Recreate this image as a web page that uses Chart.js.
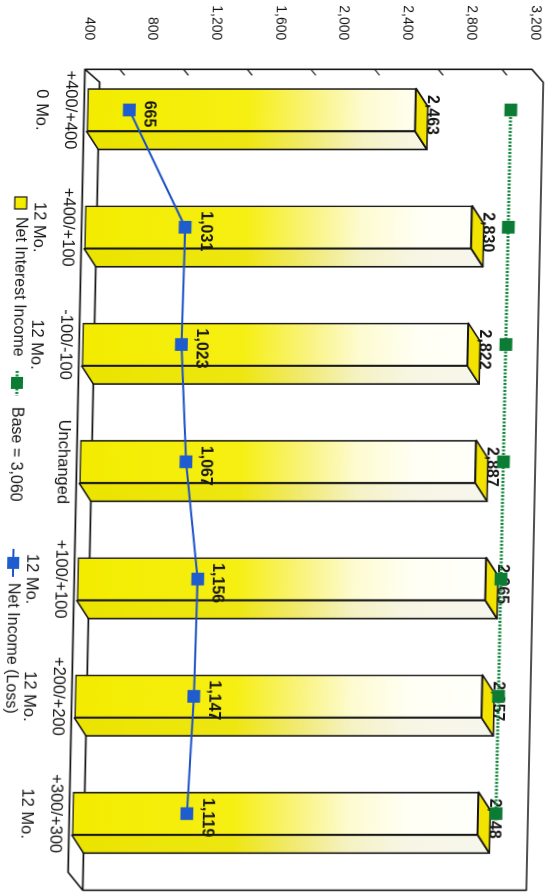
<!DOCTYPE html>
<html>
<head>
<meta charset="utf-8">
<script src="https://cdn.jsdelivr.net/npm/chart.js@4.4.1/dist/chart.umd.min.js"></script>
<style>
  html, body { margin: 0; padding: 0; background: #fff; width: 548px; height: 893px; overflow: hidden; }
  /* the landscape chart is turned a quarter turn clockwise to fill the portrait page */
  #wrap { position: absolute; left: 0; top: 0; width: 893px; height: 548px;
          transform-origin: 0 0; transform: translateX(548px) skewX(-1.2deg) rotate(90deg); }
  canvas { display: block; }
</style>
</head>
<body>
<div id="wrap"><canvas id="c" width="893" height="548"></canvas></div>
<script>
// Rate scenarios (category axis, two lines each)
const scenarios = [
  ['+400/+400', '0 Mo.'],
  ['+400/+100', '12 Mo.'],
  ['-100/-100', '12 Mo.'],
  ['Unchanged'],
  ['+100/+100', '12 Mo.'],
  ['+200/+200', '12 Mo.'],
  ['+300/+300', '12 Mo.']
];
// Series values
const netInterestIncome = [2463, 2830, 2822, 2887, 2965, 2957, 2948];
const baseLine = [3060, 3060, 3060, 3060, 3060, 3060, 3060];
const netIncome = [665, 1031, 1023, 1067, 1156, 1147, 1119];
// Value axis ticks
const axisMin = 400;
const axisMax = 3200;
const axisStep = 400;
const minorTicks = [600, 1000, 1400, 1800, 2200, 2600, 3000];

const FONT = '"Liberation Sans", Arial, sans-serif';
const INK = '#161616';
const YELLOW = '#f5ed00';
const GREEN = '#0f863b';
const BLUE = '#1d52c8';
const DX = 18, DY = -12;   // 3D depth offset

const fmt = v => Number(v).toLocaleString('en-US');

function barGradient(chart) {
  const y = chart.scales.y;
  if (!chart.chartArea || !y) return YELLOW;
  const g = chart.ctx.createLinearGradient(0, y.getPixelForValue(axisMin), 0, y.getPixelForValue(axisMax));
  g.addColorStop(0, '#f3ec00');
  g.addColorStop(0.36, '#f6ef12');
  g.addColorStop(0.50, '#f9f37a');
  g.addColorStop(0.62, '#fdfbd0');
  g.addColorStop(0.75, '#fffff4');
  g.addColorStop(1, '#ffffff');
  return g;
}

// keep the plot area exactly where the layout padding puts it
function noScalePadding(s) {
  s.paddingTop = 0; s.paddingBottom = 0; s.paddingLeft = 0; s.paddingRight = 0;
}

const box3d = {
  id: 'box3d',
  beforeDatasetsDraw(chart) {
    const { ctx, chartArea: a, scales: { y } } = chart;
    const lx = a.left + DX;           // left edge of the box
    const fy = a.bottom + 3;          // floor front
    const by = a.bottom + DY;         // floor back
    const bx = lx + 13;               // back-left corner
    const ty = 3;                     // top of back wall
    const rx = a.right + DX;          // right edge of back wall
    ctx.save();
    ctx.strokeStyle = INK;
    ctx.lineWidth = 1.6;
    ctx.lineJoin = 'round';
    ctx.beginPath();
    ctx.moveTo(lx, fy);
    ctx.lineTo(lx, a.top + 2);
    ctx.lineTo(bx, ty);
    ctx.lineTo(rx, ty);
    ctx.lineTo(rx, by);
    ctx.lineTo(bx, by);
    ctx.lineTo(lx, fy);
    ctx.lineTo(a.right, fy);
    ctx.lineTo(rx, by);
    ctx.stroke();
    // small ticks on the value edge
    ctx.lineWidth = 1.2;
    ctx.beginPath();
    minorTicks.forEach(v => {
      const p = y.getPixelForValue(v);
      ctx.moveTo(lx, p);
      ctx.lineTo(lx + 6, p - 5);
    });
    ctx.stroke();
    ctx.restore();
  },
  afterDatasetDraw(chart, args) {
    if (args.index !== 0) return;
    const { ctx } = chart;
    const meta = chart.getDatasetMeta(0);
    const grad = barGradient(chart);
    const floor = chart.scales.y.getPixelForValue(axisMin);
    ctx.save();
    ctx.strokeStyle = INK;
    ctx.lineWidth = 1.6;
    ctx.lineJoin = 'round';
    meta.data.forEach(el => {
      const { x, y, width } = el.getProps(['x', 'y', 'width'], true);
      const base = floor;
      const x0 = x - width / 2, x1 = x + width / 2;
      // side face
      ctx.beginPath();
      ctx.moveTo(x1, base);
      ctx.lineTo(x1, y);
      ctx.lineTo(x1 + DX, y + DY);
      ctx.lineTo(x1 + DX, base + DY);
      ctx.closePath();
      ctx.fillStyle = grad;
      ctx.fill();
      ctx.fillStyle = 'rgba(120,110,0,0.06)';
      ctx.fill();
      ctx.stroke();
      // top face
      ctx.beginPath();
      ctx.moveTo(x0, y);
      ctx.lineTo(x0 + DX, y + DY);
      ctx.lineTo(x1 + DX, y + DY);
      ctx.lineTo(x1, y);
      ctx.closePath();
      ctx.fillStyle = '#f2e400';
      ctx.fill();
      ctx.stroke();
    });
    // value labels above the bars
    ctx.fillStyle = INK;
    ctx.font = `bold 16px ${FONT}`;
    ctx.textAlign = 'center';
    ctx.textBaseline = 'middle';
    meta.data.forEach((el, i) => {
      ctx.fillText(fmt(chart.data.datasets[0].data[i]), el.x + 5, el.y - 16);
    });
    ctx.restore();
  },
  afterDatasetsDraw(chart) {
    const { ctx } = chart;
    const ds = chart.data.datasets;
    ctx.save();
    // net income labels
    const meta = chart.getDatasetMeta(2);
    ctx.fillStyle = INK;
    ctx.font = `bold 16px ${FONT}`;
    ctx.textAlign = 'center';
    ctx.textBaseline = 'middle';
    meta.data.forEach((pt, i) => {
      ctx.fillText(fmt(ds[2].data[i]), pt.x + 4, pt.y - 20);
    });
    // legend
    const ly = 523;
    ctx.font = `16px ${FONT}`;
    ctx.textAlign = 'left';
    ctx.fillStyle = YELLOW;
    ctx.fillRect(197, ly - 6, 12, 12);
    ctx.strokeStyle = INK;
    ctx.lineWidth = 1.2;
    ctx.strokeRect(197, ly - 6, 12, 12);
    ctx.fillStyle = INK;
    ctx.fillText(ds[0].label, 217, ly);

    ctx.strokeStyle = GREEN;
    ctx.lineWidth = 3;
    ctx.setLineDash([2, 1.5]);
    ctx.beginPath(); ctx.moveTo(371, ly); ctx.lineTo(396, ly); ctx.stroke();
    ctx.setLineDash([]);
    ctx.fillStyle = '#0c7c35';
    ctx.fillRect(377, ly - 6, 12, 12);
    ctx.fillStyle = INK;
    ctx.fillText(ds[1].label, 407, ly);

    ctx.strokeStyle = BLUE;
    ctx.lineWidth = 2;
    ctx.beginPath(); ctx.moveTo(549, ly); ctx.lineTo(577, ly); ctx.stroke();
    ctx.fillStyle = '#1f5ccd';
    ctx.fillRect(557, ly - 6, 12, 12);
    ctx.fillStyle = INK;
    ctx.fillText(ds[2].label, 583, ly);
    ctx.restore();
  }
};

new Chart(document.getElementById('c'), {
  type: 'bar',
  data: {
    labels: scenarios,
    datasets: [
      {
        type: 'bar',
        label: 'Net Interest Income',
        data: netInterestIncome,
        base: axisMin,
        backgroundColor: ctx => barGradient(ctx.chart),
        borderColor: INK,
        borderWidth: 1.6,
        borderSkipped: false,
        barThickness: 43,
        order: 3
      },
      {
        type: 'line',
        label: 'Base = 3,060',
        data: baseLine,
        borderColor: GREEN,
        borderWidth: 3,
        borderDash: [2, 1.5],
        pointStyle: 'rect',
        pointRadius: 9,
        pointBorderWidth: 0,
        pointBackgroundColor: '#0c7c35',
        tension: 0,
        order: 2
      },
      {
        type: 'line',
        label: 'Net Income (Loss)',
        data: netIncome,
        borderColor: BLUE,
        borderWidth: 2,
        pointStyle: 'rect',
        pointRadius: 9,
        pointBorderWidth: 0,
        pointBackgroundColor: '#1f5ccd',
        tension: 0,
        order: 1
      }
    ]
  },
  options: {
    responsive: false,
    animation: false,
    devicePixelRatio: 1,
    layout: { padding: { top: 12.6, right: 20.55, bottom: 0, left: 0 } },
    plugins: { legend: { display: false }, tooltip: { enabled: false } },
    scales: {
      x: {
        grid: { display: false, drawTicks: false },
        border: { display: false },
        ticks: {
          padding: 2, maxRotation: 0, autoSkip: false, color: INK,
          font: { family: FONT, size: 16.5, lineHeight: 1.76 }
        },
        afterFit(s) { s.height = 89.4; noScalePadding(s); }
      },
      y: {
        min: axisMin, max: axisMax,
        grid: { display: false, drawTicks: false },
        border: { display: false },
        ticks: {
          stepSize: axisStep, padding: 11, color: INK,
          font: { family: FONT, size: 14 },
          callback: v => fmt(v)
        },
        afterFit(s) { s.width = 51.35; noScalePadding(s); }
      }
    }
  },
  plugins: [box3d]
});
</script>
</body>
</html>
